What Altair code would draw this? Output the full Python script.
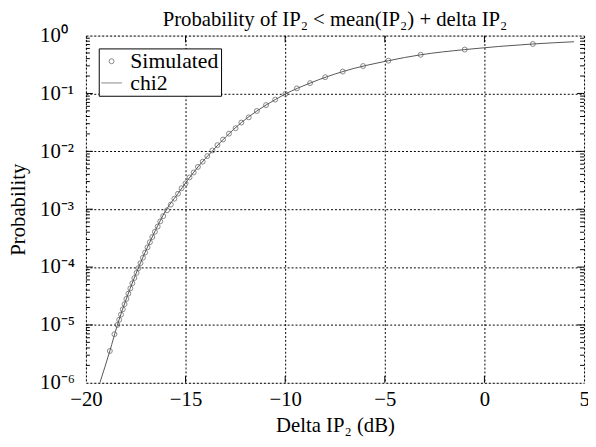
import altair as alt
import pandas as pd

# ---- data ----
sim_x = [-18.80, -18.57, -18.42, -18.33, -18.24, -18.15, -18.06, -17.97, -17.87, -17.77,
         -17.67, -17.57, -17.46, -17.37, -17.26, -17.14, -17.03, -16.91, -16.79, -16.67,
         -16.54, -16.40, -16.27, -16.12, -15.93, -15.74, -15.56, -15.38, -15.20, -15.00,
         -14.80, -14.59, -14.38, -14.14, -13.91, -13.65, -13.40, -13.12, -12.82, -12.49,
         -12.20, -11.83, -11.42, -10.96, -10.50, -9.99, -9.41, -8.75, -7.99, -7.11,
         -6.09, -4.82, -3.20, -0.99, 2.43]
sim_p = [3.55e-6, 6.92e-6, 1.00e-5, 1.23e-5, 1.51e-5, 1.86e-5, 2.29e-5, 2.82e-5, 3.47e-5, 4.27e-5,
         5.25e-5, 6.46e-5, 7.94e-5, 9.55e-5, 1.17e-4, 1.45e-4, 1.78e-4, 2.19e-4, 2.69e-4, 3.31e-4,
         4.07e-4, 5.01e-4, 6.17e-4, 7.59e-4, 9.57e-4, 1.20e-3, 1.52e-3, 1.85e-3, 2.30e-3, 2.79e-3,
         3.54e-3, 4.31e-3, 5.38e-3, 6.62e-3, 8.28e-3, 1.035e-2, 1.28e-2, 1.60e-2, 2.02e-2, 2.51e-2,
         3.14e-2, 3.87e-2, 4.98e-2, 6.30e-2, 7.83e-2, 9.79e-2, 0.1225, 0.151, 0.191, 0.239,
         0.298, 0.368, 0.466, 0.573, 0.716]

chi2_x = [-19.30, -18.80, -18.42, -17.92, -17.35, -16.70, -15.95, -15.42, -14.90, -14.33,
          -13.67, -12.98, -12.20, -11.42, -10.50, -9.99, -8.75, -7.11, -4.82, -3.20,
          -0.99, 2.43, 4.50]
chi2_p = [1.0e-6, 3.55e-6, 1.0e-5, 3.16e-5, 1.0e-4, 3.16e-4, 1.0e-3, 1.78e-3, 3.16e-3, 5.62e-3,
          1.0e-2, 1.78e-2, 3.14e-2, 4.98e-2, 7.83e-2, 9.79e-2, 0.151, 0.239, 0.368, 0.466,
          0.573, 0.716, 0.783]

series = ["Simulated", "chi2"]
x_ticks = [-20, -15, -10, -5, 0, 5]
x_inner_ticks = [-15, -10, -5, 0]
y_ticks = [1, 1e-1, 1e-2, 1e-3, 1e-4, 1e-5, 1e-6]
y_inner_ticks = [1e-1, 1e-2, 1e-3, 1e-4, 1e-5]
y_minor_ticks = [m * 10.0 ** e for e in range(-6, 0) for m in range(2, 10)]

W, H = 505, 352
FONT = "Liberation Serif"
GRAY = "#555555"

sim_df = pd.DataFrame({"x": sim_x, "p": sim_p, "series": ["Simulated"] * len(sim_x)})
chi_df = pd.DataFrame({"x": chi2_x, "p": chi2_p})

xscale = alt.Scale(domain=[-20, 5], nice=False, zero=False)
yscale = alt.Scale(type="log", domain=[1e-6, 1], nice=False)

label_expr = ("datum.value >= 0.5 ? '10⁰' : datum.value >= 0.05 ? '10⁻¹' : "
              "datum.value >= 0.005 ? '10⁻²' : datum.value >= 0.0005 ? '10⁻³' : "
              "datum.value >= 0.00005 ? '10⁻⁴' : datum.value >= 0.000005 ? '10⁻⁵' : '10⁻⁶'")

xaxis = alt.Axis(values=x_ticks, grid=True, gridDash=[2, 2], gridColor="black", gridOpacity=1,
                 ticks=False, tickSize=0, domain=False, labelFont=FONT, labelFontSize=21,
                 labelColor="black", labelPadding=6, labelFlush=False, labelOverlap=False,
                 title="Delta IP₂ (dB)", titleFont=FONT,
                 titleFontSize=21, titleFontWeight="normal", titleColor="black", titlePadding=5)
yaxis = alt.Axis(values=y_ticks, grid=True, gridDash=[2, 2], gridColor="black", gridOpacity=1,
                 ticks=False, tickSize=0, domain=False, labelFont=FONT, labelFontSize=21,
                 labelColor="black", labelExpr=label_expr, labelAlign="left", labelPadding=47,
                 labelFlush=False, labelOverlap=False,
                 title="Probability", titleFont=FONT, titleFontSize=21, titleFontWeight="normal",
                 titleColor="black", titlePadding=11)

legend = alt.Legend(orient="none", legendX=13, legendY=13, title=None, strokeColor="black",
                    fillColor="white", padding=2, labelFont=FONT, labelFontSize=22,
                    labelColor="black", symbolStrokeColor=GRAY, symbolStrokeWidth=1,
                    labelOffset=8, rowPadding=0, cornerRadius=0, labelLimit=300)

X = alt.X("x:Q", scale=xscale, axis=xaxis)
Y = alt.Y("p:Q", scale=yscale, axis=yaxis)

points = alt.Chart(sim_df).mark_point(filled=False, color=GRAY, strokeWidth=1).encode(
    x=X, y=Y,
    shape=alt.Shape("series:N", scale=alt.Scale(domain=series, range=["circle", "stroke"]), legend=legend),
    size=alt.Size("series:N", scale=alt.Scale(domain=series, range=[25, 441]), legend=legend),
)

line = alt.Chart(chi_df).mark_line(color=GRAY, strokeWidth=1, interpolate="monotone", clip=True).encode(
    x=X, y=Y
)

ymaj_df = pd.DataFrame({"p": y_inner_ticks})
ymin_df = pd.DataFrame({"p": y_minor_ticks})
xmaj_df = pd.DataFrame({"x": x_inner_ticks})

def rule(df):
    return alt.Chart(df).mark_rule(color="black", strokeWidth=1)

ticks = [
    rule(ymin_df).encode(y=Y, x=alt.value(0), x2=alt.value(4)),
    rule(ymin_df).encode(y=Y, x=alt.value(W - 4), x2=alt.value(W)),
    rule(ymaj_df).encode(y=Y, x=alt.value(0), x2=alt.value(7)),
    rule(ymaj_df).encode(y=Y, x=alt.value(W - 7), x2=alt.value(W)),
    rule(xmaj_df).encode(x=X, y=alt.value(H - 7), y2=alt.value(H)),
    rule(xmaj_df).encode(x=X, y=alt.value(0), y2=alt.value(7)),
]

chart = alt.layer(line, points, *ticks).properties(
    width=W, height=H,
    title=alt.TitleParams(text="Probability of IP₂ < mean(IP₂) + delta IP₂", font=FONT,
                          fontSize=21, fontWeight="normal", color="black", anchor="middle",
                          offset=8, dy=13),
    autosize=alt.AutoSizeParams(type="none"),
    padding={"left": 79, "top": 25, "right": 4, "bottom": 54},
).configure_view(stroke="black", strokeWidth=1).configure(background="white")

chart.save("out.html", embed_options={"renderer": "svg", "actions": False})
